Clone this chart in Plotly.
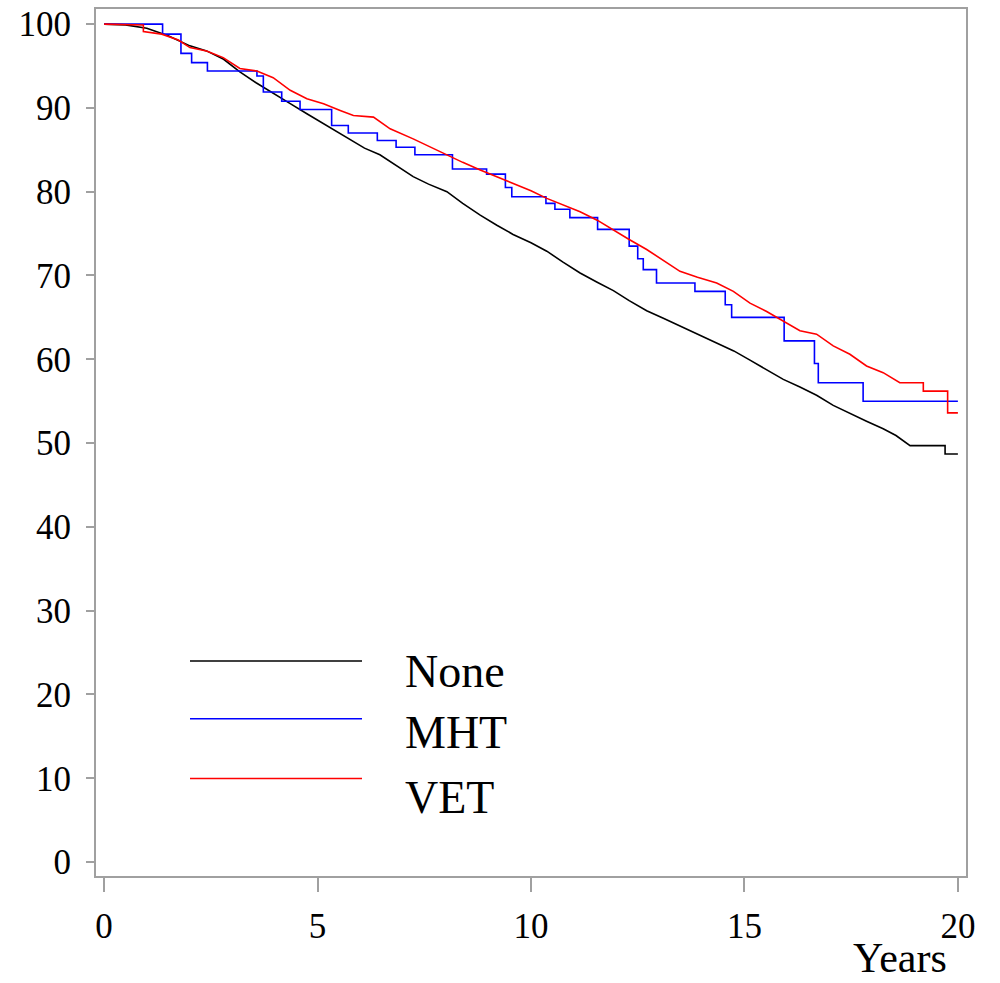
import plotly.graph_objects as go

# Survival (%) by years
none_years = [0, 0.5, 1.0, 1.5, 2.01, 2.4, 2.8, 3.18, 3.56, 3.96, 4.36, 4.75, 5.14, 5.53, 6.1, 6.46, 6.7, 7.24, 7.6, 8.03, 8.4, 8.81,
              9.2, 9.58, 10.0, 10.37, 10.75, 11.15, 11.55, 11.93, 12.3, 12.71, 13.1, 13.49, 13.9, 14.35, 14.75, 15.13, 15.5,
              15.91, 16.3, 16.69, 17.08, 17.47, 17.86, 18.25, 18.55, 18.88, 19.70, 19.70, 20.0]
none_surv = [100, 99.9, 99.5, 98.6, 97.4, 96.8, 95.8, 94.3, 93.0, 91.7, 90.5, 89.3, 88.1, 86.9, 85.2, 84.4, 83.6, 81.8, 80.9, 80.0, 78.6, 77.2,
             76.0, 74.9, 73.9, 72.9, 71.6, 70.3, 69.2, 68.2, 67.0, 65.8, 64.9, 64.0, 63.0, 62.0, 61.0, 59.9, 58.8,
             57.6, 56.7, 55.7, 54.5, 53.5, 52.6, 51.7, 50.9, 49.7, 49.7, 48.7, 48.7]

mht_years = [0, 1.37, 1.80, 2.05, 2.42, 3.58, 3.73, 4.16, 4.59, 5.33, 5.72, 6.40, 6.84, 7.28, 8.16, 8.96, 9.40, 9.55,
             10.35, 10.56, 10.91, 11.56, 12.30, 12.50, 12.63, 12.94, 13.84, 14.55, 14.70, 15.93, 16.64, 16.73, 17.78, 20.0]
mht_surv = [100, 98.8, 96.5, 95.4, 94.4, 93.8, 91.9, 90.8, 89.8, 87.9, 87.0, 86.1, 85.3, 84.4, 82.7, 82.1, 80.5, 79.4,
            78.6, 77.9, 76.9, 75.5, 73.5, 72.0, 70.7, 69.1, 68.1, 66.5, 65.0, 62.2, 59.5, 57.2, 55.0, 55.0]

vet_years = [0, 0.92, 0.92, 1.35, 1.74, 2.01, 2.40, 2.79, 3.18, 3.58, 3.96, 4.36, 4.75, 5.14, 5.53, 5.84, 6.31, 6.70,
             7.24, 7.6, 8.03, 8.4, 8.81, 9.2, 9.59, 10.0, 10.37, 10.75, 11.15, 11.55, 11.93, 12.3, 12.71, 13.1, 13.49,
             13.9, 14.35, 14.74, 15.13, 15.52, 15.91, 16.30, 16.69, 17.08, 17.47, 17.86, 18.25, 18.64, 19.19, 19.19,
             19.76, 19.76, 20.0]
vet_surv = [100, 99.9, 99.1, 98.8, 98.1, 97.2, 96.8, 96.0, 94.7, 94.4, 93.6, 92.1, 91.1, 90.5, 89.7, 89.1, 88.9, 87.5,
            86.3, 85.4, 84.4, 83.5, 82.6, 81.8, 81.0, 80.1, 79.2, 78.4, 77.6, 76.6, 75.4, 74.3, 73.1, 71.8, 70.5,
            69.8, 69.1, 68.1, 66.7, 65.7, 64.6, 63.4, 63.0, 61.6, 60.6, 59.2, 58.4, 57.2, 57.2, 56.2,
            56.2, 53.6, 53.6]

x_ticks = [0, 5, 10, 15, 20]
y_ticks = [0, 10, 20, 30, 40, 50, 60, 70, 80, 90, 100]
legend_names = ["None", "MHT", "VET"]
colors = ["#000000", "#0000ff", "#ff0000"]

FONT = "Liberation Serif, Times New Roman, serif"

fig = go.Figure()
fig.add_trace(go.Scatter(x=none_years, y=none_surv, mode="lines", line=dict(color=colors[0], width=1.6), name="None"))
fig.add_trace(go.Scatter(x=mht_years, y=mht_surv, mode="lines", line=dict(color=colors[1], width=1.6, shape="hv"), name="MHT"))
fig.add_trace(go.Scatter(x=vet_years, y=vet_surv, mode="lines", line=dict(color=colors[2], width=1.6), name="VET"))

# custom legend (lines + text) in paper coordinates
L, T, W, H = 96, 5, 870, 871
def px(xp):
    return (xp - L) / W
def py(yp):
    return 1 - (yp - T) / H

leg_line_y = [660, 718, 778]
leg_text_y = [671, 732, 797]
for i, name in enumerate(legend_names):
    fig.add_shape(type="line", xref="paper", yref="paper", x0=px(190), x1=px(362), y0=py(leg_line_y[i]), y1=py(leg_line_y[i]),
                  line=dict(color=colors[i], width=1.6))
    fig.add_annotation(xref="paper", yref="paper", x=px(403), y=py(leg_text_y[i]), text=name, showarrow=False,
                       xanchor="left", yanchor="middle", font=dict(family=FONT, size=46, color="black"))

fig.add_annotation(xref="paper", yref="paper", x=px(949), y=py(958), text="Years", showarrow=False,
                   xanchor="right", yanchor="middle", font=dict(family=FONT, size=42, color="black"))

fig.update_layout(
    width=1000, height=983,
    margin=dict(l=L, r=1000 - L - W, t=T, b=983 - T - H),
    paper_bgcolor="white", plot_bgcolor="white",
    showlegend=False,
    font=dict(family=FONT, size=35, color="black"),
)
fig.update_xaxes(range=[-0.19, 20.19], tickvals=x_ticks, ticktext=[str(v) for v in x_ticks],
                 showgrid=False, zeroline=False, showline=True, linecolor="#a0a0a0", linewidth=2, mirror=True,
                 ticks="outside", ticklen=14, tickcolor="#a0a0a0", tickwidth=1.5, ticklabelstandoff=4,
                 tickfont=dict(family=FONT, size=35, color="black"))
fig.update_yaxes(range=[-1.66, 101.8], tickvals=y_ticks, ticktext=[str(v) for v in y_ticks],
                 showgrid=False, zeroline=False, showline=True, linecolor="#a0a0a0", linewidth=2, mirror=True,
                 ticks="outside", ticklen=8, tickcolor="#a0a0a0", tickwidth=1.5, ticklabelstandoff=8,
                 tickfont=dict(family=FONT, size=35, color="black"))

fig.write_html("out.html")
